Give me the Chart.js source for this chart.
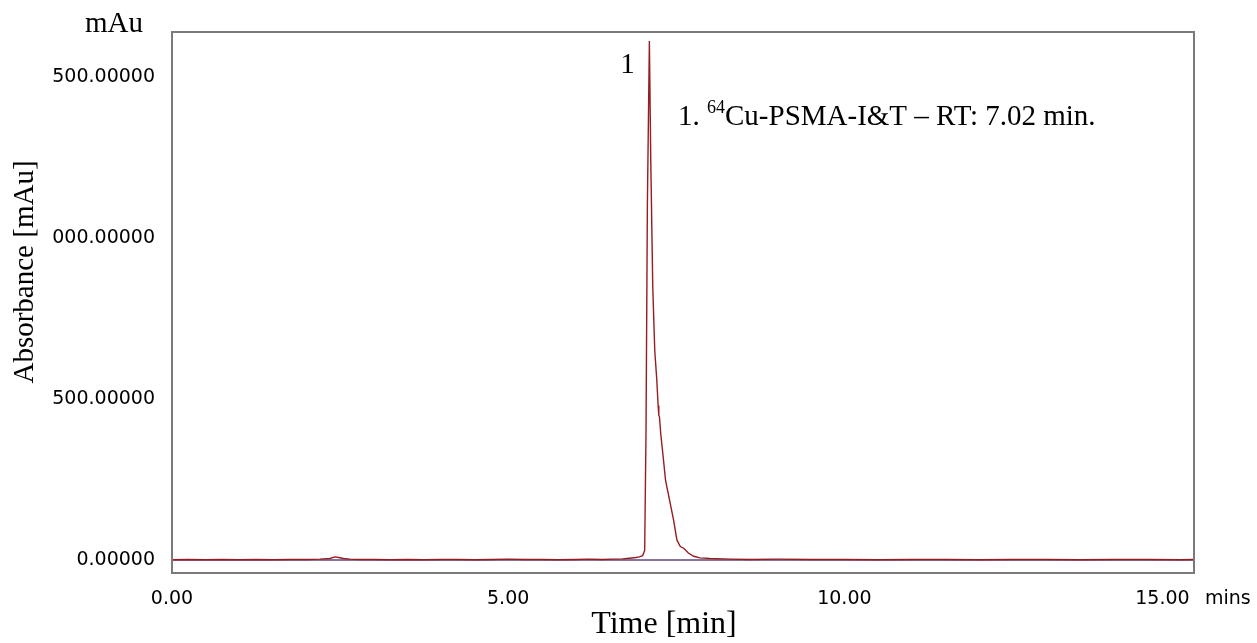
<!DOCTYPE html>
<html>
<head>
<meta charset="utf-8">
<script src="https://cdn.jsdelivr.net/npm/chart.js@4.4.1/dist/chart.umd.min.js"></script>
<style>
  html, body { margin: 0; padding: 0; background: #ffffff; }
  #wrap { width: 1257px; height: 643px; position: relative; }
</style>
</head>
<body>
<div id="wrap"><canvas id="c" width="1257" height="643"></canvas></div>
<script>
// ---- data ----
const timeMin = [0.0,0.25,0.5,0.75,1.0,1.25,1.5,1.75,2.0,2.2,2.35,2.42,2.48,2.55,2.65,2.8,3.0,3.25,3.5,3.75,4.0,4.25,4.5,4.75,5.0,5.25,5.5,5.75,6.0,6.2,6.4,6.55,6.7,6.8,6.9,6.95,7.0,7.03,7.05,7.07,7.10,7.12,7.15,7.18,7.21,7.23,7.24,7.25,7.27,7.31,7.34,7.40,7.46,7.51,7.56,7.61,7.68,7.76,7.85,8.0,8.3,8.6,9.0,9.5,10.0,10.5,11.0,11.5,12.0,12.5,13.0,13.5,14.0,14.5,15.0,15.2];
const absorbance = [1,2,1,2,1,2,1,2,2,3,5,10,8,5,3,2,2,1,2,1,2,2,1,2,3,2,2,1,2,3,2,3,4,6,8,10,14,30,400,1100,1612,1250,850,650,560,480,450,445,390,311,248,186,124,62,42,37,22,12,7,5,3,2,3,2,2,1,2,2,1,2,2,1,2,2,1,2];
const zeroLineTime = [0, 15.2];
const zeroLineValue = [0, 0];
const xTickValues = [0, 5, 10, 15];
const xTickLabels = ["0.00", "5.00", "10.00", "15.00"];
const yTickValues = [0, 500, 1000, 1500];
const yTickLabels = ["0.00000", "500.00000", "000.00000", "500.00000"];
const peakTime = 7.10;
const peakValue = 1612;

const traceData = timeMin.map((t, i) => ({ x: t, y: absorbance[i] }));
const zeroData = zeroLineTime.map((t, i) => ({ x: t, y: zeroLineValue[i] }));

const SERIF = "'Liberation Serif', 'Times New Roman', serif";
const SANS = "'DejaVu Sans', Verdana, sans-serif";

const textPlugin = {
  id: 'texts',
  afterDraw(chart) {
    const ctx = chart.ctx;
    const a = chart.chartArea;
    const xs = chart.scales.x, ys = chart.scales.y;
    ctx.save();
    // frame
    ctx.strokeStyle = '#7a7a7a';
    ctx.lineWidth = 2;
    ctx.strokeRect(a.left, a.top, a.right - a.left, a.bottom - a.top);

    ctx.fillStyle = '#000';
    // unit label top-left
    ctx.font = '29px ' + SERIF;
    ctx.textAlign = 'center';
    ctx.textBaseline = 'middle';
    ctx.fillText('mAu', 114, 24);

    // y axis title
    ctx.save();
    ctx.translate(25, 272);
    ctx.rotate(-Math.PI / 2);
    ctx.fillText('Absorbance [mAu]', 0, 0);
    ctx.restore();

    // x axis title
    ctx.font = '32px ' + SERIF;
    ctx.fillText('Time [min]', 664, 625);

    // x unit
    ctx.font = '19px ' + SANS;
    ctx.textAlign = 'left';
    ctx.fillStyle = '#000';
    ctx.fillText('mins', 1205, 599);

    // peak number
    ctx.font = '29px ' + SERIF;
    ctx.textAlign = 'center';
    const px = xs.getPixelForValue(peakTime);
    const py = ys.getPixelForValue(peakValue);
    ctx.fillText('1', px - 22, py + 24);

    // annotation with superscript
    ctx.textAlign = 'left';
    ctx.textBaseline = 'alphabetic';
    let x0 = 678, base = 125;
    ctx.font = '29px ' + SERIF;
    ctx.fillText('1. ', x0, base);
    x0 += ctx.measureText('1. ').width;
    ctx.font = '18px ' + SERIF;
    ctx.fillText('64', x0, base - 12);
    x0 += ctx.measureText('64').width;
    ctx.font = '29px ' + SERIF;
    ctx.fillText('Cu-PSMA-I&T \u2013 RT: 7.02 min.', x0, base);
    ctx.restore();
  }
};

new Chart(document.getElementById('c'), {
  type: 'line',
  data: {
    datasets: [
      {
        data: zeroData,
        borderColor: 'rgb(95,70,120)',
        borderWidth: 1.5,
        pointRadius: 0,
        tension: 0,
        order: 2
      },
      {
        data: traceData,
        borderColor: 'rgb(150,28,32)',
        borderWidth: 1.4,
        pointRadius: 0,
        tension: 0,
        order: 1
      }
    ]
  },
  options: {
    responsive: false,
    animation: false,
    devicePixelRatio: 1,
    layout: { padding: { top: 32, right: 63, left: 0, bottom: 0 } },
    plugins: { legend: { display: false }, tooltip: { enabled: false }, title: { display: false } },
    scales: {
      x: {
        type: 'linear',
        min: 0,
        max: 15.2,
        afterFit(s) { s.height = 70; },
        afterBuildTicks(s) { s.ticks = xTickValues.map(v => ({ value: v })); },
        grid: { display: false, drawTicks: false },
        border: { display: false },
        ticks: {
          padding: 15,
          color: '#000',
          font: { family: SANS, size: 19 },
          maxRotation: 0,
          callback: (v) => {
            const i = xTickValues.indexOf(v);
            if (i < 0) return '';
            // last label is nudged left (as in the reference) to leave room for the unit
            return i === xTickValues.length - 1 ? xTickLabels[i] + '\u00a0\u00a0\u00a0\u00a0\u00a0\u00a0' : xTickLabels[i];
          }
        }
      },
      y: {
        type: 'linear',
        min: -40,
        max: 1640,
        afterFit(s) { s.width = 172; },
        afterBuildTicks(s) { s.ticks = yTickValues.map(v => ({ value: v })); },
        grid: { display: false, drawTicks: false },
        border: { display: false },
        ticks: {
          padding: 17,
          color: '#000',
          font: { family: SANS, size: 19 },
          callback: (v) => { const i = yTickValues.indexOf(v); return i >= 0 ? yTickLabels[i] : ''; }
        }
      }
    }
  },
  plugins: [textPlugin]
});
</script>
</body>
</html>
